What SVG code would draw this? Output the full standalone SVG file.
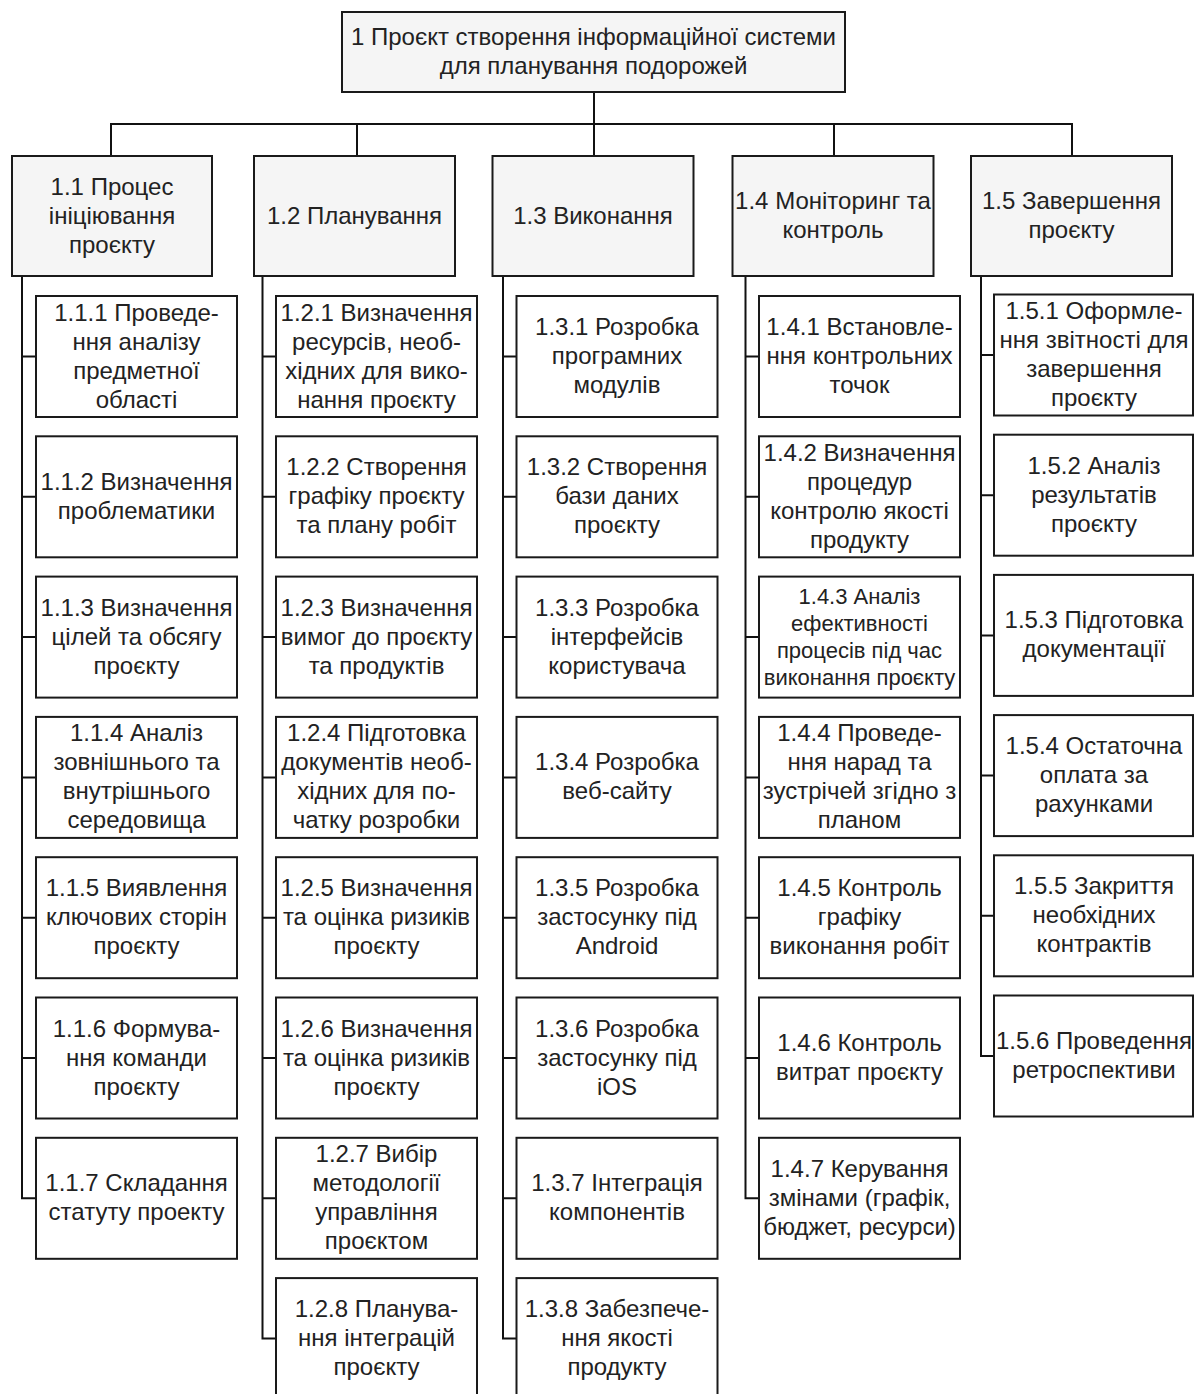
<svg xmlns="http://www.w3.org/2000/svg" width="1194" height="1394" viewBox="0 0 1194 1394">
  <style>
    .bg { fill: #ffffff; }
    .box { fill: #ffffff; stroke: #1a1a1a; stroke-width: 2; }
    .top { fill: #f5f5f5; stroke: #1a1a1a; stroke-width: 2; }
    .wire { fill: none; stroke: #111111; stroke-width: 2; }
    text { font-family: "Liberation Sans", Arial, sans-serif; font-size: 24px; fill: #222222; text-anchor: middle; }
    text.small { font-size: 22px; }
  </style>
  <rect class="bg" x="0" y="0" width="1194" height="1394"/>

  <!-- tree connectors -->
  <g id="connectors">
    <path class="wire" d="M594 92 V156"/>
    <path class="wire" d="M111 156 V124 H1072 V156"/>
    <path class="wire" d="M357 124 V156"/>
    <path class="wire" d="M834 124 V156"/>
    <!-- column 1.1 -->
    <path class="wire" d="M22 276 V1198.3 H36 M22 356.5 H36 M22 496.8 H36 M22 637.1 H36 M22 777.4 H36 M22 917.7 H36 M22 1058 H36"/>
    <!-- column 1.2 -->
    <path class="wire" d="M262.5 276 V1338.6 H276 M262.5 356.5 H276 M262.5 496.8 H276 M262.5 637.1 H276 M262.5 777.4 H276 M262.5 917.7 H276 M262.5 1058 H276 M262.5 1198.3 H276"/>
    <!-- column 1.3 -->
    <path class="wire" d="M503 276 V1338.6 H516.5 M503 356.5 H516.5 M503 496.8 H516.5 M503 637.1 H516.5 M503 777.4 H516.5 M503 917.7 H516.5 M503 1058 H516.5 M503 1198.3 H516.5"/>
    <!-- column 1.4 -->
    <path class="wire" d="M745.5 276 V1198.3 H759 M745.5 356.5 H759 M745.5 496.8 H759 M745.5 637.1 H759 M745.5 777.4 H759 M745.5 917.7 H759 M745.5 1058 H759"/>
    <!-- column 1.5 -->
    <path class="wire" d="M981 276 V1056 H994 M981 355 H994 M981 495.2 H994 M981 635.4 H994 M981 775.6 H994 M981 915.8 H994"/>
  </g>

  <!-- root -->
  <g id="n1" transform="translate(342,12)">
    <rect class="top" x="0" y="0" width="503" height="80"/>
    <text x="251.5" y="33">1 Проєкт створення інформаційної системи</text>
    <text x="251.5" y="62">для планування подорожей</text>
  </g>

  <!-- level 2 -->
  <g id="n1_1" transform="translate(12,156)">
    <rect class="top" x="0" y="0" width="200" height="120"/>
    <text x="100" y="38.5">1.1 Процес</text>
    <text x="100" y="67.5">ініціювання</text>
    <text x="100" y="96.5">проєкту</text>
  </g>
  <g id="n1_2" transform="translate(254,156)">
    <rect class="top" x="0" y="0" width="201" height="120"/>
    <text x="100.5" y="67.5">1.2 Планування</text>
  </g>
  <g id="n1_3" transform="translate(492.5,156)">
    <rect class="top" x="0" y="0" width="201" height="120"/>
    <text x="100.5" y="67.5">1.3 Виконання</text>
  </g>
  <g id="n1_4" transform="translate(732.5,156)">
    <rect class="top" x="0" y="0" width="201" height="120"/>
    <text x="100.5" y="53">1.4 Моніторинг та</text>
    <text x="100.5" y="82">контроль</text>
  </g>
  <g id="n1_5" transform="translate(971,156)">
    <rect class="top" x="0" y="0" width="201" height="120"/>
    <text x="100.5" y="53">1.5 Завершення</text>
    <text x="100.5" y="82">проєкту</text>
  </g>

  <!-- column 1.1 -->
  <g id="n1_1_1" transform="translate(36,296)">
    <rect class="box" x="0" y="0" width="201" height="121"/>
    <text x="100.5" y="24.5">1.1.1 Проведе-</text>
    <text x="100.5" y="53.5">ння аналізу</text>
    <text x="100.5" y="82.5">предметної</text>
    <text x="100.5" y="111.5">області</text>
  </g>
  <g id="n1_1_2" transform="translate(36,436.3)">
    <rect class="box" x="0" y="0" width="201" height="121"/>
    <text x="100.5" y="53.5">1.1.2 Визначення</text>
    <text x="100.5" y="82.5">проблематики</text>
  </g>
  <g id="n1_1_3" transform="translate(36,576.6)">
    <rect class="box" x="0" y="0" width="201" height="121"/>
    <text x="100.5" y="39">1.1.3 Визначення</text>
    <text x="100.5" y="68">цілей та обсягу</text>
    <text x="100.5" y="97">проєкту</text>
  </g>
  <g id="n1_1_4" transform="translate(36,716.9)">
    <rect class="box" x="0" y="0" width="201" height="121"/>
    <text x="100.5" y="24.5">1.1.4 Аналіз</text>
    <text x="100.5" y="53.5">зовнішнього та</text>
    <text x="100.5" y="82.5">внутрішнього</text>
    <text x="100.5" y="111.5">середовища</text>
  </g>
  <g id="n1_1_5" transform="translate(36,857.2)">
    <rect class="box" x="0" y="0" width="201" height="121"/>
    <text x="100.5" y="39">1.1.5 Виявлення</text>
    <text x="100.5" y="68">ключових сторін</text>
    <text x="100.5" y="97">проєкту</text>
  </g>
  <g id="n1_1_6" transform="translate(36,997.5)">
    <rect class="box" x="0" y="0" width="201" height="121"/>
    <text x="100.5" y="39">1.1.6 Формува-</text>
    <text x="100.5" y="68">ння команди</text>
    <text x="100.5" y="97">проєкту</text>
  </g>
  <g id="n1_1_7" transform="translate(36,1137.8)">
    <rect class="box" x="0" y="0" width="201" height="121"/>
    <text x="100.5" y="53.5">1.1.7 Складання</text>
    <text x="100.5" y="82.5">статуту проекту</text>
  </g>

  <!-- column 1.2 -->
  <g id="n1_2_1" transform="translate(276,296)">
    <rect class="box" x="0" y="0" width="201" height="121"/>
    <text x="100.5" y="24.5">1.2.1 Визначення</text>
    <text x="100.5" y="53.5">ресурсів, необ-</text>
    <text x="100.5" y="82.5">хідних для вико-</text>
    <text x="100.5" y="111.5">нання проєкту</text>
  </g>
  <g id="n1_2_2" transform="translate(276,436.3)">
    <rect class="box" x="0" y="0" width="201" height="121"/>
    <text x="100.5" y="39">1.2.2 Створення</text>
    <text x="100.5" y="68">графіку проєкту</text>
    <text x="100.5" y="97">та плану робіт</text>
  </g>
  <g id="n1_2_3" transform="translate(276,576.6)">
    <rect class="box" x="0" y="0" width="201" height="121"/>
    <text x="100.5" y="39">1.2.3 Визначення</text>
    <text x="100.5" y="68">вимог до проєкту</text>
    <text x="100.5" y="97">та продуктів</text>
  </g>
  <g id="n1_2_4" transform="translate(276,716.9)">
    <rect class="box" x="0" y="0" width="201" height="121"/>
    <text x="100.5" y="24.5">1.2.4 Підготовка</text>
    <text x="100.5" y="53.5">документів необ-</text>
    <text x="100.5" y="82.5">хідних для по-</text>
    <text x="100.5" y="111.5">чатку розробки</text>
  </g>
  <g id="n1_2_5" transform="translate(276,857.2)">
    <rect class="box" x="0" y="0" width="201" height="121"/>
    <text x="100.5" y="39">1.2.5 Визначення</text>
    <text x="100.5" y="68">та оцінка ризиків</text>
    <text x="100.5" y="97">проєкту</text>
  </g>
  <g id="n1_2_6" transform="translate(276,997.5)">
    <rect class="box" x="0" y="0" width="201" height="121"/>
    <text x="100.5" y="39">1.2.6 Визначення</text>
    <text x="100.5" y="68">та оцінка ризиків</text>
    <text x="100.5" y="97">проєкту</text>
  </g>
  <g id="n1_2_7" transform="translate(276,1137.8)">
    <rect class="box" x="0" y="0" width="201" height="121"/>
    <text x="100.5" y="24.5">1.2.7 Вибір</text>
    <text x="100.5" y="53.5">методології</text>
    <text x="100.5" y="82.5">управління</text>
    <text x="100.5" y="111.5">проєктом</text>
  </g>
  <g id="n1_2_8" transform="translate(276,1278.1)">
    <rect class="box" x="0" y="0" width="201" height="121"/>
    <text x="100.5" y="39">1.2.8 Планува-</text>
    <text x="100.5" y="68">ння інтеграцій</text>
    <text x="100.5" y="97">проєкту</text>
  </g>

  <!-- column 1.3 -->
  <g id="n1_3_1" transform="translate(516.5,296)">
    <rect class="box" x="0" y="0" width="201" height="121"/>
    <text x="100.5" y="39">1.3.1 Розробка</text>
    <text x="100.5" y="68">програмних</text>
    <text x="100.5" y="97">модулів</text>
  </g>
  <g id="n1_3_2" transform="translate(516.5,436.3)">
    <rect class="box" x="0" y="0" width="201" height="121"/>
    <text x="100.5" y="39">1.3.2 Створення</text>
    <text x="100.5" y="68">бази даних</text>
    <text x="100.5" y="97">проєкту</text>
  </g>
  <g id="n1_3_3" transform="translate(516.5,576.6)">
    <rect class="box" x="0" y="0" width="201" height="121"/>
    <text x="100.5" y="39">1.3.3 Розробка</text>
    <text x="100.5" y="68">інтерфейсів</text>
    <text x="100.5" y="97">користувача</text>
  </g>
  <g id="n1_3_4" transform="translate(516.5,716.9)">
    <rect class="box" x="0" y="0" width="201" height="121"/>
    <text x="100.5" y="53.5">1.3.4 Розробка</text>
    <text x="100.5" y="82.5">веб-сайту</text>
  </g>
  <g id="n1_3_5" transform="translate(516.5,857.2)">
    <rect class="box" x="0" y="0" width="201" height="121"/>
    <text x="100.5" y="39">1.3.5 Розробка</text>
    <text x="100.5" y="68">застосунку під</text>
    <text x="100.5" y="97">Android</text>
  </g>
  <g id="n1_3_6" transform="translate(516.5,997.5)">
    <rect class="box" x="0" y="0" width="201" height="121"/>
    <text x="100.5" y="39">1.3.6 Розробка</text>
    <text x="100.5" y="68">застосунку під</text>
    <text x="100.5" y="97">iOS</text>
  </g>
  <g id="n1_3_7" transform="translate(516.5,1137.8)">
    <rect class="box" x="0" y="0" width="201" height="121"/>
    <text x="100.5" y="53.5">1.3.7 Інтеграція</text>
    <text x="100.5" y="82.5">компонентів</text>
  </g>
  <g id="n1_3_8" transform="translate(516.5,1278.1)">
    <rect class="box" x="0" y="0" width="201" height="121"/>
    <text x="100.5" y="39">1.3.8 Забезпече-</text>
    <text x="100.5" y="68">ння якості</text>
    <text x="100.5" y="97">продукту</text>
  </g>

  <!-- column 1.4 -->
  <g id="n1_4_1" transform="translate(759,296)">
    <rect class="box" x="0" y="0" width="201" height="121"/>
    <text x="100.5" y="39">1.4.1 Встановле-</text>
    <text x="100.5" y="68">ння контрольних</text>
    <text x="100.5" y="97">точок</text>
  </g>
  <g id="n1_4_2" transform="translate(759,436.3)">
    <rect class="box" x="0" y="0" width="201" height="121"/>
    <text x="100.5" y="24.5">1.4.2 Визначення</text>
    <text x="100.5" y="53.5">процедур</text>
    <text x="100.5" y="82.5">контролю якості</text>
    <text x="100.5" y="111.5">продукту</text>
  </g>
  <g id="n1_4_3" transform="translate(759,576.6)">
    <rect class="box" x="0" y="0" width="201" height="121"/>
    <text class="small" x="100.5" y="27">1.4.3 Аналіз</text>
    <text class="small" x="100.5" y="54">ефективності</text>
    <text class="small" x="100.5" y="81">процесів під час</text>
    <text class="small" x="100.5" y="108">виконання проєкту</text>
  </g>
  <g id="n1_4_4" transform="translate(759,716.9)">
    <rect class="box" x="0" y="0" width="201" height="121"/>
    <text x="100.5" y="24.5">1.4.4 Проведе-</text>
    <text x="100.5" y="53.5">ння нарад та</text>
    <text x="100.5" y="82.5">зустрічей згідно з</text>
    <text x="100.5" y="111.5">планом</text>
  </g>
  <g id="n1_4_5" transform="translate(759,857.2)">
    <rect class="box" x="0" y="0" width="201" height="121"/>
    <text x="100.5" y="39">1.4.5 Контроль</text>
    <text x="100.5" y="68">графіку</text>
    <text x="100.5" y="97">виконання робіт</text>
  </g>
  <g id="n1_4_6" transform="translate(759,997.5)">
    <rect class="box" x="0" y="0" width="201" height="121"/>
    <text x="100.5" y="53.5">1.4.6 Контроль</text>
    <text x="100.5" y="82.5">витрат проєкту</text>
  </g>
  <g id="n1_4_7" transform="translate(759,1137.8)">
    <rect class="box" x="0" y="0" width="201" height="121"/>
    <text x="100.5" y="39">1.4.7 Керування</text>
    <text x="100.5" y="68">змінами (графік,</text>
    <text x="100.5" y="97">бюджет, ресурси)</text>
  </g>

  <!-- column 1.5 -->
  <g id="n1_5_1" transform="translate(994,294.5)">
    <rect class="box" x="0" y="0" width="199" height="121"/>
    <text x="100" y="24.5">1.5.1 Оформле-</text>
    <text x="100" y="53.5">ння звітності для</text>
    <text x="100" y="82.5">завершення</text>
    <text x="100" y="111.5">проєкту</text>
  </g>
  <g id="n1_5_2" transform="translate(994,434.7)">
    <rect class="box" x="0" y="0" width="199" height="121"/>
    <text x="100" y="39">1.5.2 Аналіз</text>
    <text x="100" y="68">результатів</text>
    <text x="100" y="97">проєкту</text>
  </g>
  <g id="n1_5_3" transform="translate(994,574.9)">
    <rect class="box" x="0" y="0" width="199" height="121"/>
    <text x="100" y="53.5">1.5.3 Підготовка</text>
    <text x="100" y="82.5">документації</text>
  </g>
  <g id="n1_5_4" transform="translate(994,715.1)">
    <rect class="box" x="0" y="0" width="199" height="121"/>
    <text x="100" y="39">1.5.4 Остаточна</text>
    <text x="100" y="68">оплата за</text>
    <text x="100" y="97">рахунками</text>
  </g>
  <g id="n1_5_5" transform="translate(994,855.3)">
    <rect class="box" x="0" y="0" width="199" height="121"/>
    <text x="100" y="39">1.5.5 Закриття</text>
    <text x="100" y="68">необхідних</text>
    <text x="100" y="97">контрактів</text>
  </g>
  <g id="n1_5_6" transform="translate(994,995.5)">
    <rect class="box" x="0" y="0" width="199" height="121"/>
    <text x="100" y="53.5">1.5.6 Проведення</text>
    <text x="100" y="82.5">ретроспективи</text>
  </g>
</svg>
